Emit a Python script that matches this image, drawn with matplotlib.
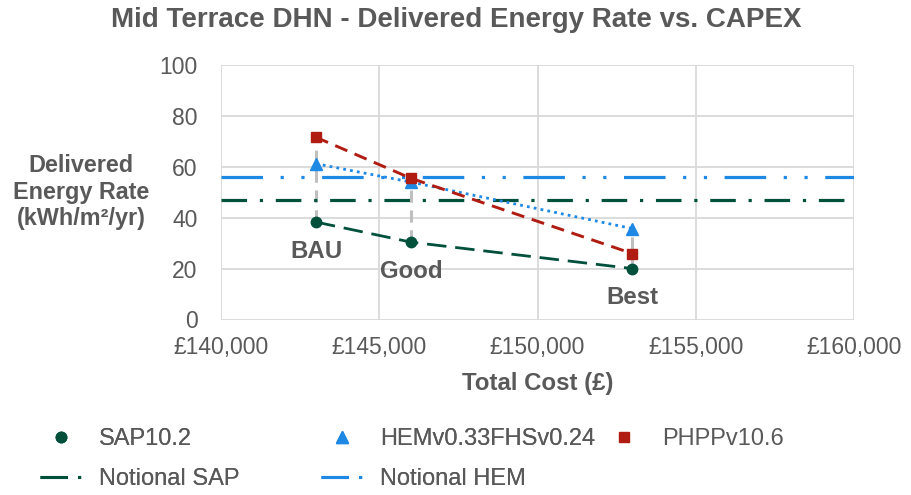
import matplotlib
matplotlib.use("Agg")
import matplotlib.pyplot as plt
from matplotlib.lines import Line2D
from matplotlib.ticker import FuncFormatter, MultipleLocator

plt.rcParams['font.family'] = ['Liberation Sans', 'DejaVu Sans']

# ---- data ----
scenarios = ["BAU", "Good", "Best"]
total_cost = [143000, 146000, 153000]
sap = [38.3, 30.4, 20.0]
hem = [61.2, 54.0, 35.7]
phpp = [71.6, 55.5, 25.9]
notional_sap = 46.8
notional_hem = 55.9

GREEN = "#00503C"
BLUE = "#1E88E5"
RED = "#B01C12"
GREY_TXT = "#595959"
GRID = "#D9D9D9"

W, H = 912, 495
fig = plt.figure(figsize=(W / 100, H / 100), dpi=100)
ax = fig.add_axes([221 / W, 1 - 319.5 / H, 633 / W, 254.5 / H])

ax.set_xlim(140000, 160000)
ax.set_ylim(0, 100)
ax.xaxis.set_major_locator(MultipleLocator(5000))
ax.yaxis.set_major_locator(MultipleLocator(20))
ax.xaxis.set_major_formatter(FuncFormatter(lambda v, p: "£{:,.0f}".format(v)))
ax.grid(True, color=GRID, linewidth=1.3)
ax.set_axisbelow(True)
for s in ax.spines.values():
    s.set_visible(False)
ax.tick_params(length=0, labelsize=16.5, colors=GREY_TXT)
ax.tick_params(axis="x", pad=12)
ax.tick_params(axis="y", pad=17)

# high-low grey lines
for x, a, b, c in zip(total_cost, sap, hem, phpp):
    lo, hi = min(a, b, c), max(a, b, c)
    ax.plot([x, x], [lo, hi], color="#BFBFBF", lw=2.2, dashes=(4, 2.5), zorder=2)

# notional lines
ax.axhline(notional_sap, color=GREEN, lw=2.3, dashes=(8, 4, 1, 4), zorder=3)
ax.axhline(notional_hem, color=BLUE, lw=2.3, dashes=(13, 5.5, 1, 5.5, 1, 5.5), zorder=3)

# series lines
ax.plot(total_cost, sap, color=GREEN, lw=2.0, dashes=(7, 3.2), zorder=4)
ax.plot(total_cost, hem, color=BLUE, lw=2.0, dashes=(1, 1.5), zorder=4)
ax.plot(total_cost, phpp, color=RED, lw=2.1, dashes=(4.5, 2.7), zorder=4)

ax.plot(total_cost, sap, 'o', color=GREEN, ms=7.5, zorder=5)
ax.plot(total_cost, hem, '^', color=BLUE, ms=8, zorder=5)
ax.plot(total_cost, phpp, 's', color=RED, ms=7.5, zorder=5)

# scenario labels
for x, y, lab in zip(total_cost, sap, scenarios):
    ax.annotate(lab, (x, y), xytext=(0, -21), textcoords="offset points",
                ha="center", va="center", fontsize=17.3, fontweight="bold",
                color=GREY_TXT)

fig.text(0.5, 1 - 20 / H, "Mid Terrace DHN - Delivered Energy Rate vs. CAPEX",
         ha="center", va="center", fontsize=20, fontweight="bold", color=GREY_TXT)
fig.text(81 / W, 1 - 192 / H, "Delivered\nEnergy Rate\n(kWh/m²/yr)",
         ha="center", va="center", fontsize=16.8, fontweight="bold", color=GREY_TXT,
         linespacing=1.22)
ax.set_xlabel("Total Cost (£)", fontsize=17.3, fontweight="bold", color=GREY_TXT,
              labelpad=9)

# legend (three columns, placed individually)
h_sap = Line2D([], [], ls="none", marker='o', color=GREEN, ms=7.5)
h_hem = Line2D([], [], ls="none", marker='^', color=BLUE, ms=8)
h_phpp = Line2D([], [], ls="none", marker='s', color=RED, ms=7.5)
h_nsap = Line2D([], [], color=GREEN, lw=2.2, dashes=(9, 3.3, 1, 5))
h_nhem = Line2D([], [], color=BLUE, lw=2.2, dashes=(9, 3.3, 1, 5))

leg_kw = dict(loc="upper left", frameon=False, fontsize=17, labelcolor=GREY_TXT,
              handlelength=1.78, handletextpad=0.72, labelspacing=0.77,
              borderpad=0, borderaxespad=0)
top = 1 - 428 / H
l1 = fig.legend([h_sap, h_nsap], ["SAP10.2", "Notional SAP"],
                bbox_to_anchor=(40 / W, top), **leg_kw)
fig.add_artist(l1)
l2 = fig.legend([h_hem, h_nhem], ["HEMv0.33FHSv0.24", "Notional HEM"],
                bbox_to_anchor=(321 / W, top), **leg_kw)
fig.add_artist(l2)
fig.legend([h_phpp], ["PHPPv10.6"], bbox_to_anchor=(603 / W, top), **leg_kw)

fig.savefig("out.png", dpi=100)
